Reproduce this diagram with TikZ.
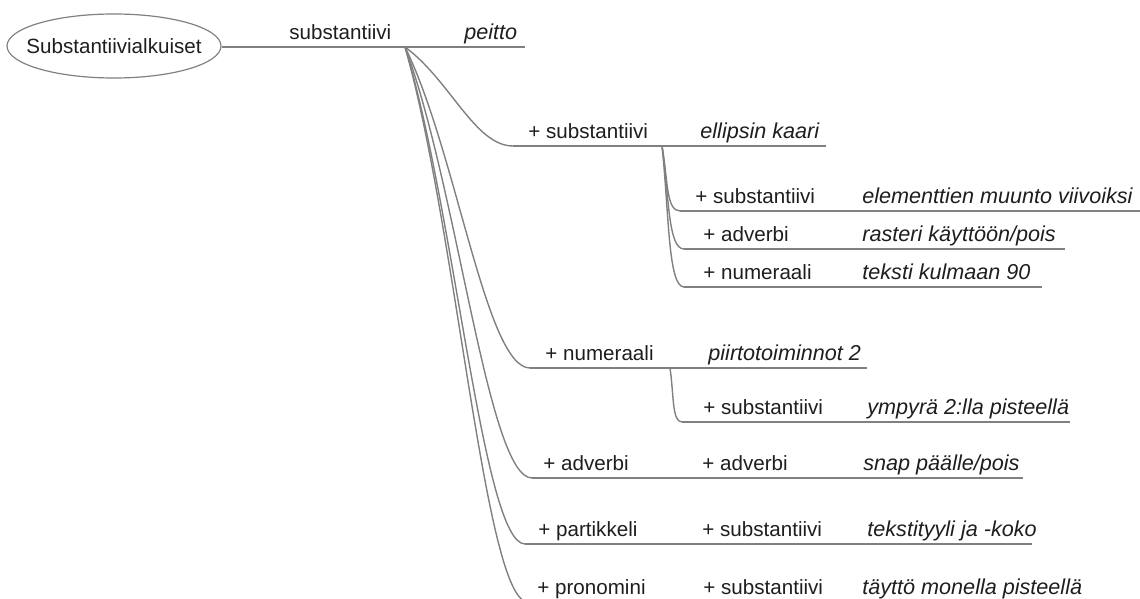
\documentclass[tikz,border=0pt]{standalone}
\usepackage{fontspec}
\setmainfont{Liberation Sans}
\usetikzlibrary{shapes.geometric}
\definecolor{linegray}{RGB}{128,128,128}
\definecolor{txt}{RGB}{30,30,30}
\begin{document}
\begin{tikzpicture}[x=0.5pt,y=-0.5pt,
  edge/.style={draw=linegray, line width=0.7pt},
  lbl/.style={anchor=base west, inner sep=0pt, font=\fontsize{10.3}{12}\selectfont, text=txt},
  ital/.style={anchor=base west, inner sep=0pt, font=\fontsize{10.8}{12}\selectfont\itshape, text=txt},
  rootnode/.style={ellipse, draw=linegray, line width=0.6pt, inner xsep=-6pt, inner ysep=0pt, minimum width=107pt, minimum height=32pt, font=\fontsize{10.3}{12}\selectfont, text=txt}]
\useasboundingbox (0,0) rectangle (1140,599);
\clip (0,0) rectangle (1140,599);

% root
\node[rootnode] (root) at (114,46) {Substantiivialkuiset};

% coordinates: branch points, line starts and ends
\coordinate (B0) at (405,47);
\coordinate (L0e) at (525,47);
\coordinate (S1) at (513,146);  \coordinate (E1) at (826,146);
\coordinate (B1) at (662,146);
\coordinate (T1) at (680,211);  \coordinate (F1) at (1145,211);
\coordinate (T2) at (684,249);  \coordinate (F2) at (1065,249);
\coordinate (T3) at (684,287);  \coordinate (F3) at (1042,287);
\coordinate (S2) at (530,368);  \coordinate (E2) at (867,368);
\coordinate (B2) at (670,368);
\coordinate (U1) at (682,422);  \coordinate (G1) at (1070,422);
\coordinate (S3) at (532,478);  \coordinate (E3) at (1023,478);
\coordinate (S4) at (525,544);  \coordinate (E4) at (1032,544);
\coordinate (S5) at (528,602);  \coordinate (E5) at (1085,602);

% lines
\draw[edge] (root.east |- L0e) -- (L0e);
\draw[edge] (S1) -- (E1);
\draw[edge] (T1) -- (F1);
\draw[edge] (T2) -- (F2);
\draw[edge] (T3) -- (F3);
\draw[edge] (S2) -- (E2);
\draw[edge] (U1) -- (G1);
\draw[edge] (S3) -- (E3);
\draw[edge] (S4) -- (E4);
\draw[edge] (S5) -- (E5);

% curved connectors
\draw[edge] (B0) .. controls +(45,33) and +(-38,0) .. (S1);
\draw[edge] (B0) .. controls +(52,106) and +(-44,0) .. (S2);
\draw[edge] (B0) .. controls +(53,142) and +(-44,0) .. (S3);
\draw[edge] (B0) .. controls +(50,164) and +(-42,0) .. (S4);
\draw[edge] (B0) .. controls +(52,183) and +(-43,0) .. (S5);
\draw[edge] (B1) .. controls +(6,34) and +(-14,0) .. (T1);
\draw[edge] (B1) .. controls +(7,50) and +(-16,0) .. (T2);
\draw[edge] (B1) .. controls +(7,66) and +(-16,0) .. (T3);
\draw[edge] (B2) .. controls +(4,28) and +(-10,0) .. (U1);

% texts
\node[lbl]  (n0)  at (289,39.5) {substantiivi};
\node[ital] (n0i) at (464,39.5) {peitto};

\node[lbl]  (n1)  at (528,138.5) {+ substantiivi};
\node[ital] (n1i) at (700,138.5) {ellipsin kaari};

\node[lbl]  (n11)  at (695,203.5) {+ substantiivi};
\node[ital] (n11i) at (862,203.5) {elementtien muunto viivoiksi};
\node[lbl]  (n12)  at (703,241.5) {+ adverbi};
\node[ital] (n12i) at (862,241.5) {rasteri käyttöön/pois};
\node[lbl]  (n13)  at (703,279.5) {+ numeraali};
\node[ital] (n13i) at (862,279.5) {teksti kulmaan 90};

\node[lbl]  (n2)  at (545,360.5) {+ numeraali};
\node[ital] (n2i) at (708,360.5) {piirtotoiminnot 2};
\node[lbl]  (n21)  at (703,414.5) {+ substantiivi};
\node[ital] (n21i) at (867,414.5) {ympyrä 2:lla pisteellä};

\node[lbl]  (n3)  at (543,470.5) {+ adverbi};
\node[lbl]  (n31) at (702,470.5) {+ adverbi};
\node[ital] (n31i) at (863,470.5) {snap päälle/pois};

\node[lbl]  (n4)  at (538,536.5) {+ partikkeli};
\node[lbl]  (n41) at (702,536.5) {+ substantiivi};
\node[ital] (n41i) at (867,536.5) {tekstityyli ja -koko};

\node[lbl]  (n5)  at (537,594.5) {+ pronomini};
\node[lbl]  (n51) at (703,594.5) {+ substantiivi};
\node[ital] (n51i) at (862,594.5) {täyttö monella pisteellä};
\end{tikzpicture}
\end{document}
